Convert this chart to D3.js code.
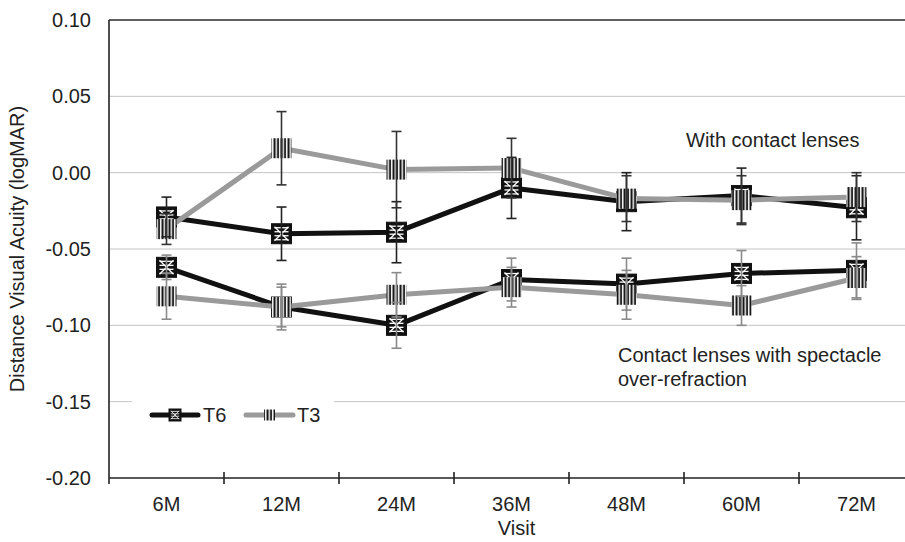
<!DOCTYPE html>
<html>
<head>
<meta charset="utf-8">
<script src="https://cdn.jsdelivr.net/npm/d3@7"></script>
<style>
  body { margin: 0; background: #fff; }
  text { font-family: "Liberation Sans", Arial, sans-serif; fill: #222; }
</style>
</head>
<body>
<div id="chart-area"></div>
<script>
// Visits on the x axis
const visits = ["6M", "12M", "24M", "36M", "48M", "60M", "72M"];

// With contact lenses
const t6Cl = [-0.029, -0.040, -0.039, -0.010, -0.019, -0.015, -0.023];
const t6ClErr = [0.013, 0.0175, 0.020, 0.020, 0.019, 0.018, 0.021];
const t3Cl = [-0.037, 0.016, 0.002, 0.003, -0.017, -0.018, -0.016];
const t3ClErr = [0.010, 0.024, 0.025, 0.0195, 0.015, 0.016, 0.016];

// Contact lenses with spectacle over-refraction
const t6Or = [-0.062, -0.088, -0.100, -0.070, -0.073, -0.066, -0.064];
const t6OrErr = [0.008, 0.013, 0.015, 0.014, 0.017, 0.015, 0.018];
const t3Or = [-0.081, -0.088, -0.080, -0.075, -0.080, -0.087, -0.069];
const t3OrErr = [0.015, 0.015, 0.0145, 0.013, 0.016, 0.013, 0.014];

const yTicks = [0.10, 0.05, 0.00, -0.05, -0.10, -0.15, -0.20];

const width = 905, height = 542;
const plotLeft = 109, plotRight = 914, plotTop = 20, plotBottom = 478;

const svg = d3.select("#chart-area").append("svg")
    .attr("width", width).attr("height", height);

const x = d3.scaleBand().domain(visits).range([plotLeft, plotRight]);
const y = d3.scaleLinear().domain([-0.20, 0.10]).range([plotBottom, plotTop]);
const cx = d => x(d) + x.bandwidth() / 2;

// stripe pattern for the T3 markers
const defs = svg.append("defs");
const stripes = defs.append("pattern")
    .attr("id", "stripes")
    .attr("patternUnits", "userSpaceOnUse")
    .attr("width", 3.5).attr("height", 10);
stripes.append("rect").attr("width", 3.5).attr("height", 10).attr("fill", "#fff");
stripes.append("rect").attr("x", 0.5).attr("width", 2).attr("height", 10).attr("fill", "#111");

// gridlines
svg.append("g").selectAll("line")
    .data(yTicks.filter(t => t > -0.20 && t < 0.10))
    .enter().append("line")
    .attr("x1", plotLeft).attr("x2", width)
    .attr("y1", d => y(d)).attr("y2", d => y(d))
    .attr("stroke", "#c4c4c4").attr("stroke-width", 1);

// top border line
svg.append("line")
    .attr("x1", plotLeft).attr("x2", width)
    .attr("y1", y(0.10)).attr("y2", y(0.10))
    .attr("stroke", "#2a2a2a").attr("stroke-width", 1.6);

// y axis (hyphen minus like the original)
const fmt = d => d3.format(".2f")(d).replace("\u2212", "-");
const yAxis = svg.append("g")
    .attr("transform", `translate(${plotLeft},0)`)
    .call(d3.axisLeft(y).tickValues(yTicks).tickFormat(fmt).tickSize(0).tickPadding(18));
yAxis.select(".domain").remove();
yAxis.selectAll("text").style("font-size", "20px").attr("fill", "#222")
    .style("font-family", "'Liberation Sans', Arial, sans-serif");
svg.append("line")
    .attr("x1", plotLeft).attr("x2", plotLeft)
    .attr("y1", plotTop).attr("y2", plotBottom + 6)
    .attr("stroke", "#222").attr("stroke-width", 1.6);

// x axis
svg.append("line")
    .attr("x1", plotLeft).attr("x2", width)
    .attr("y1", plotBottom).attr("y2", plotBottom)
    .attr("stroke", "#222").attr("stroke-width", 1.6);
svg.append("g").selectAll("line")
    .data(visits.slice(1))
    .enter().append("line")
    .attr("x1", d => x(d)).attr("x2", d => x(d))
    .attr("y1", plotBottom - 6).attr("y2", plotBottom + 6)
    .attr("stroke", "#222").attr("stroke-width", 1.6);
svg.append("g").selectAll("text")
    .data(visits)
    .enter().append("text")
    .attr("x", d => cx(d)).attr("y", 511)
    .attr("text-anchor", "middle")
    .style("font-size", "20px")
    .text(d => d);

// axis titles
svg.append("text")
    .attr("transform", `translate(24,${(plotTop + plotBottom) / 2}) rotate(-90)`)
    .attr("text-anchor", "middle")
    .style("font-size", "20px")
    .text("Distance Visual Acuity (logMAR)");
svg.append("text")
    .attr("x", (plotLeft + plotRight) / 2 + 5).attr("y", 535)
    .attr("text-anchor", "middle")
    .style("font-size", "20px")
    .text("Visit");

const line = d3.line().x((d, i) => cx(visits[i])).y(d => y(d));

function drawT6Marker(g, px, py, s) {
    const h = s / 2;
    const k = s / 20;
    const m = g.append("g").attr("transform", `translate(${px},${py})`);
    m.append("rect").attr("x", -h).attr("y", -h).attr("width", s).attr("height", s)
        .attr("fill", "#111").attr("stroke", "#111").attr("stroke-width", 1);
    [-6, -2, 2, 6].forEach(o => {
        m.append("line").attr("x1", -h + 3 * k).attr("x2", h - 3 * k)
            .attr("y1", o * k).attr("y2", o * k)
            .attr("stroke", "#fff").attr("stroke-width", 1.3 * k);
    });
    m.append("path")
        .attr("d", `M${-h + 3 * k},${-h + 3 * k}L${h - 3 * k},${h - 3 * k}M${h - 3 * k},${-h + 3 * k}L${-h + 3 * k},${h - 3 * k}`)
        .attr("stroke", "#fff").attr("stroke-width", 1.3 * k);
}

function drawT3Marker(g, px, py, s) {
    const h = s / 2;
    g.append("rect")
        .attr("x", px - h).attr("y", py - h).attr("width", s).attr("height", s)
        .attr("fill", "url(#stripes)");
}

function drawSeries(vals, color, kind) {
    const g = svg.append("g");
    g.append("path").datum(vals)
        .attr("d", line)
        .attr("fill", "none").attr("stroke", color)
        .attr("stroke-width", 5).attr("stroke-linejoin", "round");
    vals.forEach((v, i) => {
        if (kind === "T6") drawT6Marker(g, cx(visits[i]), y(v), 20);
        else drawT3Marker(g, cx(visits[i]), y(v), 20);
    });
}

drawSeries(t6Cl, "#111", "T6");
drawSeries(t6Or, "#111", "T6");
drawSeries(t3Cl, "#9a9a9a", "T3");
drawSeries(t3Or, "#9a9a9a", "T3");

function drawErrors(vals, errs, color) {
    const g = svg.append("g").attr("stroke", color).attr("stroke-width", 1.6);
    vals.forEach((v, i) => {
        const px = cx(visits[i]);
        g.append("line").attr("x1", px).attr("x2", px)
            .attr("y1", y(v + errs[i])).attr("y2", y(v - errs[i]));
        [v + errs[i], v - errs[i]].forEach(e => {
            g.append("line").attr("x1", px - 5).attr("x2", px + 5)
                .attr("y1", y(e)).attr("y2", y(e));
        });
    });
}

drawErrors(t6Cl, t6ClErr, "#222");
drawErrors(t3Cl, t3ClErr, "#333");
drawErrors(t6Or, t6OrErr, "#8a8a8a");
drawErrors(t3Or, t3OrErr, "#8a8a8a");

// annotations
svg.append("text").attr("x", 686).attr("y", 147)
    .style("font-size", "20px").text("With contact lenses");
svg.append("text").attr("x", 618).attr("y", 362)
    .style("font-size", "20px").text("Contact lenses with spectacle");
svg.append("text").attr("x", 618).attr("y", 386)
    .style("font-size", "20px").text("over-refraction");

// legend
const lg = svg.append("g");
lg.append("rect").attr("x", 132).attr("y", 396).attr("width", 202).attr("height", 40).attr("fill", "#fff");
const ly = 415;
lg.append("line").attr("x1", 152).attr("x2", 198).attr("y1", ly).attr("y2", ly)
    .attr("stroke", "#111").attr("stroke-width", 5).attr("stroke-linecap", "round");
drawT6Marker(lg, 175, ly, 12);
lg.append("text").attr("x", 203).attr("y", ly + 7).style("font-size", "20px").text("T6");
lg.append("line").attr("x1", 246).attr("x2", 293).attr("y1", ly).attr("y2", ly)
    .attr("stroke", "#9a9a9a").attr("stroke-width", 5).attr("stroke-linecap", "round");
drawT3Marker(lg, 269.5, ly, 11);
lg.append("text").attr("x", 297).attr("y", ly + 7).style("font-size", "20px").text("T3");
</script>
</body>
</html>
